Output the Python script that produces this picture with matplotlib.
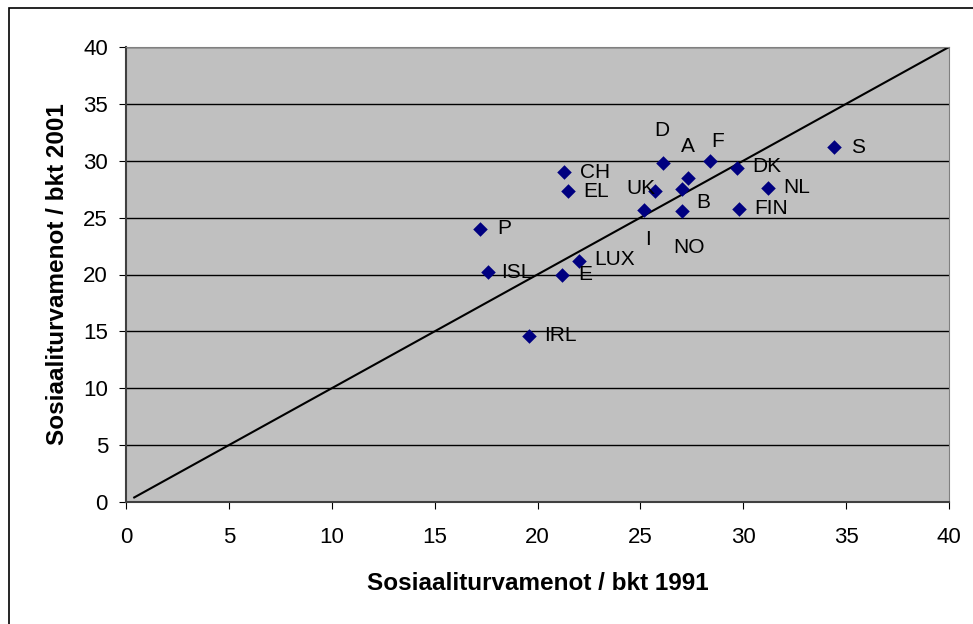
import matplotlib
matplotlib.use("Agg")
import matplotlib.pyplot as plt
from matplotlib.patches import Rectangle

plt.rcParams['font.family'] = ['Liberation Sans', 'DejaVu Sans']

# data: social expenditure as % of GDP, 1991 vs 2001
maat = ["D", "A", "F", "DK", "S", "CH", "EL", "NL", "FIN", "P",
        "ISL", "E", "LUX", "IRL", "UK", "B", "I", "NO"]
v1991 = [26.1, 27.3, 28.4, 29.7, 34.4, 21.3, 21.5, 31.2, 29.8, 17.2,
         17.6, 21.2, 22.0, 19.6, 25.7, 27.0, 25.2, 27.0]
v2001 = [29.8, 28.5, 30.0, 29.4, 31.2, 29.0, 27.3, 27.6, 25.8, 24.0,
         20.2, 20.0, 21.2, 14.6, 27.3, 27.5, 25.7, 25.6]
ticks = [0, 5, 10, 15, 20, 25, 30, 35, 40]

# label offsets in pixels (manually moved labels in the original)
offsets = {"D": (-1, 33), "A": (0, 31), "F": (7, 19), "DK": (30, 1),
           "S": (24, 0), "CH": (31, 0), "EL": (28, 0), "NL": (29, 1),
           "FIN": (32, 0), "P": (24, 1), "ISL": (29, 0), "E": (23, 0),
           "LUX": (36, 1), "IRL": (31, 0), "UK": (-14, 3), "B": (22, -13),
           "I": (4, -30), "NO": (7, -37)}

fig = plt.figure(figsize=(9.73, 6.24), dpi=100)
ax = fig.add_axes([126 / 973, 1 - 502 / 624, 823 / 973, 455 / 624])
ax.set_facecolor("#C0C0C0")

# outer chart frame
fig.patches.append(Rectangle((9 / 973, -0.1), 1.2, 1 - 8 / 624 + 0.1,
                             transform=fig.transFigure, fill=False,
                             edgecolor="black", linewidth=1.2))

ax.set_xlim(0, 40)
ax.set_ylim(0, 40)
ax.set_xticks(ticks)
ax.set_yticks(ticks)
ax.yaxis.grid(True, color="black", linewidth=1)
ax.set_axisbelow(True)

ax.plot([0.4, 40], [0.4, 40], color="black", linewidth=1.5, zorder=2)
ax.scatter(v1991, v2001, marker="D", s=55, color="#000080", zorder=3,
           linewidths=0)

for m, x, y in zip(maat, v1991, v2001):
    dx, dy = offsets[m]
    ax.annotate(m, (x, y), xytext=(dx, dy), textcoords="offset pixels",
                ha="center", va="center", fontsize=15, color="black")

for s in ["top", "right"]:
    ax.spines[s].set_color("#808080")
for s in ["left", "bottom"]:
    ax.spines[s].set_color("#404040")
    ax.spines[s].set_linewidth(1.5)
ax.tick_params(direction="out", length=5, labelsize=16)
ax.tick_params(axis="x", pad=13)
ax.tick_params(axis="y", pad=8)

ax.set_xlabel("Sosiaaliturvamenot / bkt 1991", fontsize=17.5,
              fontweight="bold", labelpad=17)
ax.set_ylabel("Sosiaaliturvamenot / bkt 2001", fontsize=17.5,
              fontweight="bold", labelpad=10)

fig.savefig("out.png", dpi=100)
